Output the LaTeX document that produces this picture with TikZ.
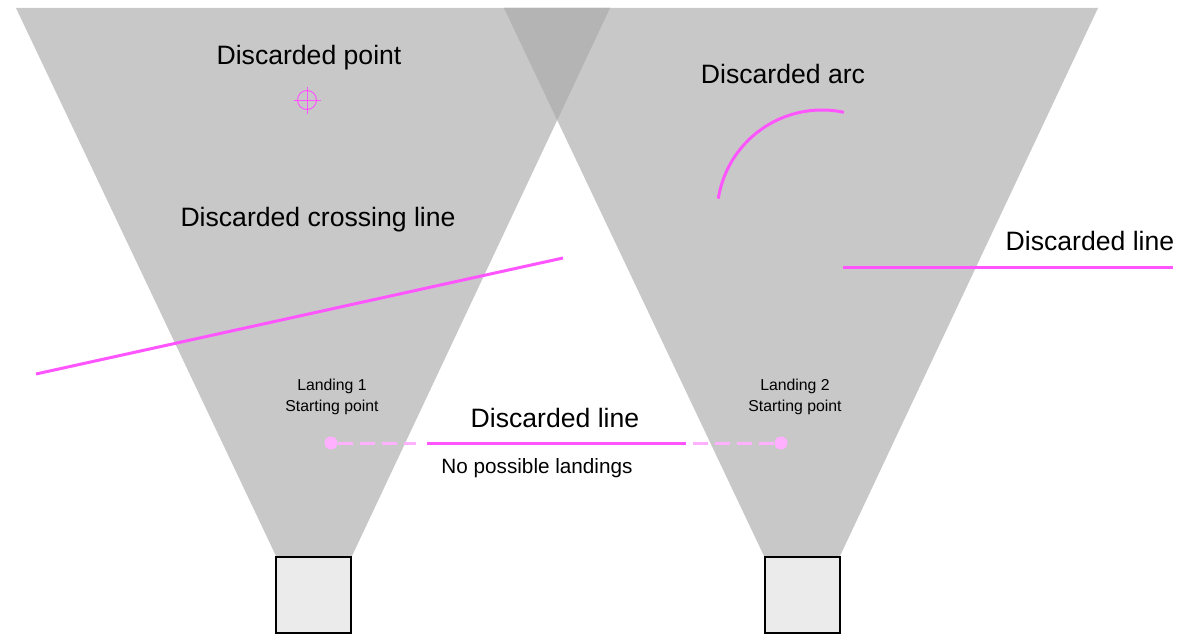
\documentclass[tikz,border=0pt]{standalone}
\usepackage{fontspec}
\setmainfont{Liberation Sans}
\begin{document}
\begin{tikzpicture}[x=1pt,y=-1pt,
  wedge/.style={fill=conegray,draw=none},
  basebox/.style={draw=black,line width=2pt,fill=boxgray},
  bigtext/.style={font=\fontsize{26.6}{31}\selectfont,inner sep=0pt},
  smalltext/.style={font=\fontsize{15.8}{20.5}\selectfont,align=center,inner sep=0pt},
  midtext/.style={font=\fontsize{20.7}{24}\selectfont,inner sep=0pt},
  discard/.style={draw=magentaline,line width=3pt},
  faded/.style={draw=pinklight,line width=3pt,dash pattern=on 15pt off 7pt},
  pt/.style={circle,fill=pinklight,minimum size=13pt,inner sep=0pt}]
\definecolor{conegray}{HTML}{C8C8C8}
\definecolor{overlapgray}{HTML}{B4B4B4}
\definecolor{boxgray}{HTML}{EBEBEB}
\definecolor{magentaline}{HTML}{FF55FF}
\definecolor{pinklight}{HTML}{FFB0FF}
\useasboundingbox (0,0) rectangle (1185,634);

% viewing cones
\fill[wedge] (16,8) -- (610,8) -- (352,556) -- (276,556) -- cycle;
\fill[wedge] (504,8) -- (1098,8) -- (840,556) -- (764,556) -- cycle;
\begin{scope}
  \clip (16,8) -- (610,8) -- (352,556) -- (276,556) -- cycle;
  \fill[overlapgray] (504,8) -- (1098,8) -- (840,556) -- (764,556) -- cycle;
\end{scope}

% cameras
\node[basebox,minimum width=75pt,minimum height=76pt,inner sep=0pt] (cam1) at (313.5,594.5) {};
\node[basebox,minimum width=75pt,minimum height=76pt,inner sep=0pt] (cam2) at (802,594.5) {};

% discarded point
\node[bigtext] (ptlabel) at (309,58) {Discarded point};
\node[circle,draw=magentaline,line width=1pt,minimum size=19pt,inner sep=0pt] (target) at (307,100) {};
\draw[magentaline,line width=1pt] (293.5,100) -- (320.5,100) (307,86.5) -- (307,113.5);

% discarded crossing line
\node[bigtext] (crosslabel) at (318,220) {Discarded crossing line};
\coordinate (cross1) at (36,374);
\coordinate (cross2) at (563,258);
\draw[discard] (cross1) -- (cross2);

% discarded arc
\node[bigtext] (arclabel) at (783,74) {Discarded arc};
\draw[discard,domain=189:282,samples=60,smooth] plot ({822+105*cos(\x)},{215+105*sin(\x)});

% discarded line on the right
\node[bigtext] (rlinelabel) at (1090,241) {Discarded line};
\coordinate (rline1) at (843,267);
\coordinate (rline2) at (1173,267);
\draw[discard] (rline1) -- (rline2);

% landings
\node[smalltext] (land1) at (332,397) {Landing 1\\Starting point};
\node[smalltext] (land2) at (795,397) {Landing 2\\Starting point};
\node[pt] (start1) at (331,443) {};
\node[pt] (start2) at (781,443) {};
\coordinate (solid1) at (427,443);
\coordinate (solid2) at (686,443);
\draw[faded] (start1.east) -- (416,443);
\draw[faded] (start2.west) -- (690,443);
\draw[discard] (solid1) -- (solid2);
\node[bigtext] (mlinelabel) at (555,418) {Discarded line};
\node[midtext] (nolanding) at (537,468) {No possible landings};
\end{tikzpicture}
\end{document}
